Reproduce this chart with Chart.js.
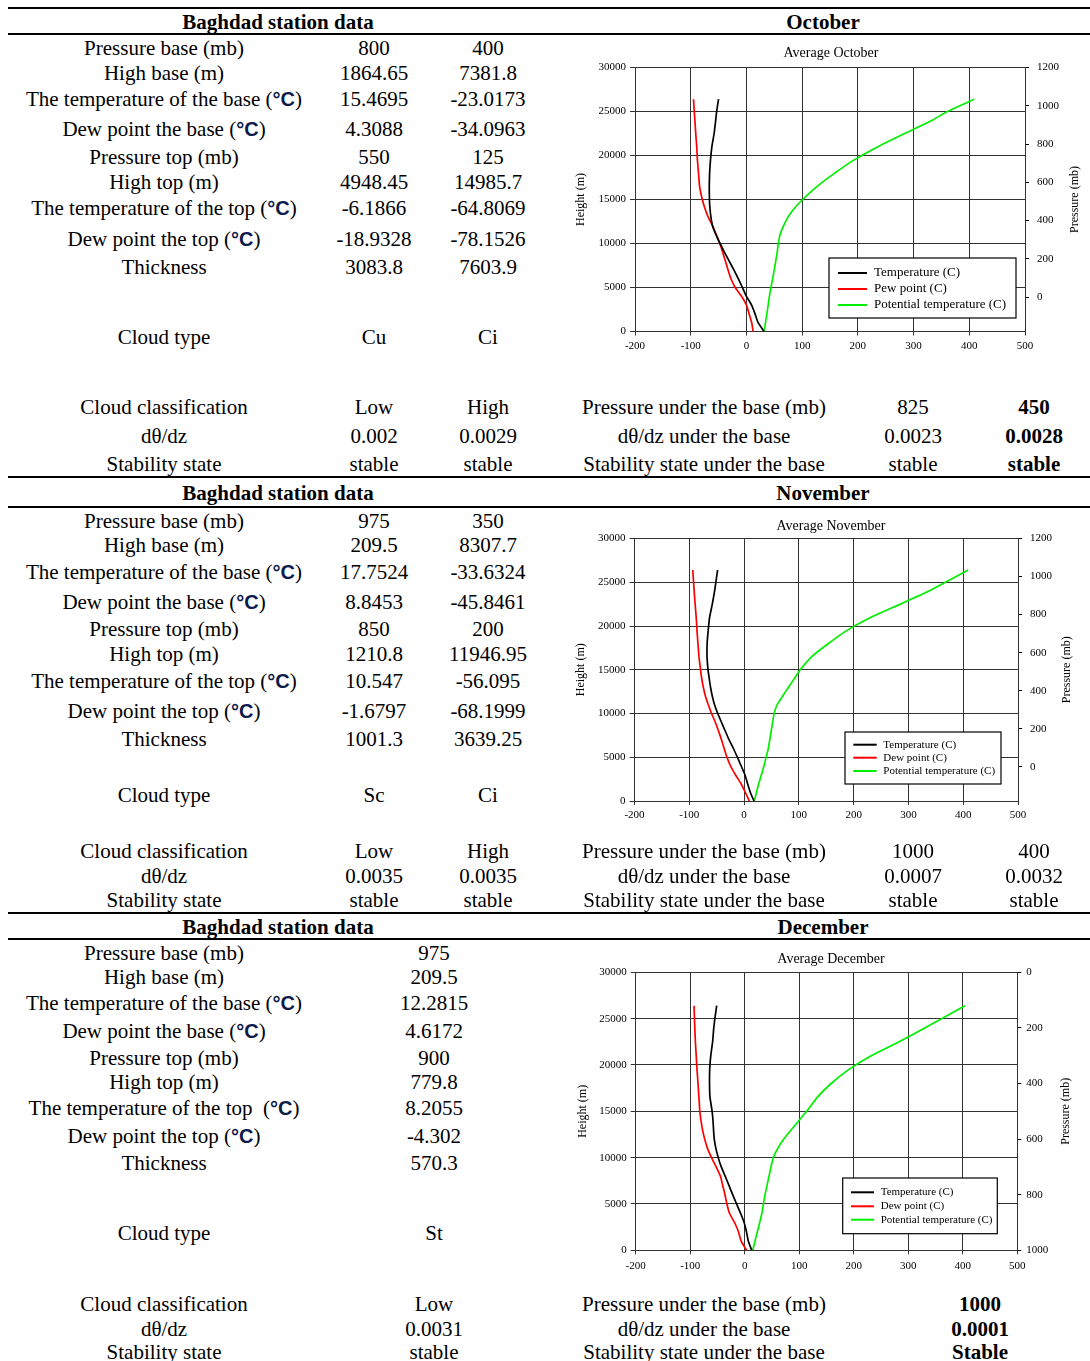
<!DOCTYPE html>
<html>
<head>
<meta charset="utf-8">
<title>Baghdad station data</title>
<script src="https://cdn.jsdelivr.net/npm/chart.js@4.4.1/dist/chart.umd.min.js"></script>
<style>
  html, body { margin: 0; padding: 0; background: #fff; }
  #page { position: relative; width: 1090px; height: 1361px; overflow: hidden;
          font-family: "Liberation Serif", "Times New Roman", serif; color: #000; }
  .t { position: absolute; font-size: 21px; line-height: 24px; white-space: nowrap;
       transform: translate(-50%, -50%); }
  .b { font-weight: bold; }
  .deg { font-family: "Liberation Sans", Arial, sans-serif; font-weight: bold; font-size: 20px; color: #0d1b4a; }
  .rule { position: absolute; left: 8px; right: 0; height: 2px; background: #000; }
  canvas { position: absolute; }
</style>
</head>
<body>
<div id="page">
  <canvas id="octChart" width="518" height="325" style="left:572px;top:40px"></canvas>
  <canvas id="novChart" width="518" height="330" style="left:572px;top:512px"></canvas>
  <canvas id="decChart" width="518" height="335" style="left:572px;top:945px"></canvas>
</div>
<script>
// ---- chart data ----
const heights = [0, 1000, 2000, 3000, 4000, 5000, 6000, 7000, 8000, 9000, 10000, 11000, 12000,
  13000, 14000, 15000, 16500, 18000, 19500, 21000, 22500, 24000, 25000, 26400];

const octTemperature = [31.7, 21, 15.5, 9.3, 0, -7.2, -14.6, -22.5, -31, -39.3, -47.3, -54.7, -60.8,
  -63.7, -65.5, -66.4, -66.7, -66.1, -64.5, -62, -58, -55.2, -53.5, -50];
const octDewPoint = [12, 9.5, 4.8, 0.1, -8.8, -20.2, -27.7, -33, -37.8, -42.6, -47.9, -54.1, -60.6,
  -68.6, -74.6, -79.2, -84.1, -86, -88, -89.2, -91, -92.5, -93.6, -95];
const octPotential = [31.7, 34.2, 36.7, 39, 41.2, 44, 47.1, 50, 52.6, 55.2, 57.3, 60.3, 66.6,
  74.6, 86.2, 100.9, 126.9, 158.6, 193.5, 236, 284, 333.4, 360.6, 409];

const novTemperature = [18.1, 11.3, 6.3, 1.6, -5.3, -12.2, -19.4, -27.4, -34.4, -41.3, -48, -53.9, -58.1,
  -61.2, -63.6, -65.8, -67.6, -67.4, -65.5, -62.9, -58, -53.8, -51.5, -48.3];
const novDewPoint = [9.6, 2.2, -5.7, -15.8, -24.7, -31.2, -36.4, -41.2, -46.6, -52.5, -59.3, -65.3, -70.6,
  -74.4, -77.3, -79.5, -82.3, -84.2, -85.9, -87.4, -89.3, -91.1, -92.2, -93.6];
const novPotential = [18.7, 22.7, 26.8, 31.7, 36.3, 40.3, 44.2, 46.9, 49.5, 52.2, 54.8, 60.4, 70.5,
  81.1, 91.8, 102.5, 123.6, 154, 187.9, 231.7, 285.1, 337.5, 367.5, 409];

const decTemperature = [12.8, 6.5, 3.2, -1.1, -7.6, -14.9, -22.1, -28.9, -35.9, -43, -48.6, -52.9, -55.9,
  -57.2, -58.2, -59.8, -63.7, -64.6, -64.3, -62.3, -58.9, -56.8, -54.8, -51.4];
const decDewPoint = [3.6, -6.6, -11.5, -18.7, -27.9, -32.7, -36.2, -40.4, -44.6, -52.4, -60.9, -68.3, -73.4,
  -77.4, -80.2, -82.4, -84, -85.7, -87.5, -89, -90.5, -91.6, -92.2, -93];
const decPotential = [14.6, 18.9, 23.2, 27.5, 31.5, 34.3, 37.2, 40.9, 44.6, 48.2, 52.4, 60.6, 71.6,
  85.3, 99.5, 113.6, 133, 158.5, 190.6, 232, 283, 330.3, 361, 404];

const tempRange = [-200, 500, 100];
const heightRange = [0, 30000, 5000];
const pressureRangeOctNov = [-180, 1200];
const pressureTicksOctNov = [0, 200, 400, 600, 800, 1000, 1200];
const pressureRangeDec = [0, 1000];
const pressureTicksDec = [0, 200, 400, 600, 800, 1000];

// ---- table text ----
const rowLabels = ["Pressure base (mb)", "High base (m)", "The temperature of the base (°C)",
  "Dew point the base (°C)", "Pressure top (mb)", "High top (m)", "The temperature of the top (°C)",
  "Dew point the top (°C)", "Thickness", "Cloud type", "Cloud classification", "dθ/dz", "Stability state"];
const octLow = ["800", "1864.65", "15.4695", "4.3088", "550", "4948.45", "-6.1866", "-18.9328", "3083.8", "Cu", "Low", "0.002", "stable"];
const octHigh = ["400", "7381.8", "-23.0173", "-34.0963", "125", "14985.7", "-64.8069", "-78.1526", "7603.9", "Ci", "High", "0.0029", "stable"];
const novLow = ["975", "209.5", "17.7524", "8.8453", "850", "1210.8", "10.547", "-1.6797", "1001.3", "Sc", "Low", "0.0035", "stable"];
const novHigh = ["350", "8307.7", "-33.6324", "-45.8461", "200", "11946.95", "-56.095", "-68.1999", "3639.25", "Ci", "High", "0.0035", "stable"];
const decLow = ["975", "209.5", "12.2815", "4.6172", "900", "779.8", "8.2055", "-4.302", "570.3", "St", "Low", "0.0031", "stable"];

const underLabels = ["Pressure under the base (mb)", "dθ/dz under the base", "Stability state under the base"];
const octUnderLow = ["825", "0.0023", "stable"];
const octUnderHigh = ["450", "0.0028", "stable"];
const novUnderLow = ["1000", "0.0007", "stable"];
const novUnderHigh = ["400", "0.0032", "stable"];
const decUnder = ["1000", "0.0001", "Stable"];

// row centres of each block
const rowsOct = [47.7, 72.7, 99.3, 129.3, 156.7, 181.7, 208.3, 239.3, 266.7, 337.3, 407.3, 436, 464.3];
const rowsNov = [520.7, 545, 571.7, 601.7, 629.3, 654.3, 681, 711, 739.3, 795, 850.7, 875.7, 900];
const rowsDec = [952.7, 976.7, 1003.3, 1031, 1057.7, 1081.7, 1108.3, 1136, 1162.7, 1233.3, 1304.3, 1329, 1351.7];

const page = document.getElementById("page");

function put(text, x, y, bold) {
  const d = document.createElement("div");
  d.className = "t" + (bold ? " b" : "");
  d.style.left = x + "px";
  d.style.top = y + "px";
  d.innerHTML = text.replace("°C", '<span class="deg">°C</span>');
  page.appendChild(d);
}

function rule(y) {
  const d = document.createElement("div");
  d.className = "rule";
  d.style.top = y + "px";
  page.appendChild(d);
}

[7, 33, 476, 506, 912, 938].forEach(rule);

function block(headY, month, rows, cols, under) {
  put("Baghdad station data", 278, headY, true);
  put(month, 823, headY, true);
  rowLabels.forEach((lab, i) => {
    if (month === "December" && i === 6) lab = "The temperature of the top&nbsp; (°C)";
    put(lab, 164, rows[i]);
    cols.forEach(([vals, x]) => put(vals[i], x, rows[i]));
  });
  underLabels.forEach((lab, i) => {
    put(lab, 704, rows[10 + i]);
    under.forEach(([vals, x, bold]) => put(vals[i], x, rows[10 + i], bold));
  });
}

block(21.5, "October", rowsOct, [[octLow, 374], [octHigh, 488]], [[octUnderLow, 913, false], [octUnderHigh, 1034, true]]);
block(493.3, "November", rowsNov, [[novLow, 374], [novHigh, 488]], [[novUnderLow, 913, false], [novUnderHigh, 1034, false]]);
block(927.3, "December", rowsDec, [[decLow, 434]], [[decUnder, 980, true]]);

// ---- charts ----
Chart.defaults.font.family = '"Liberation Serif", "Times New Roman", serif';
Chart.defaults.color = "#000";

const extras = {
  id: "extras",
  afterDraw(chart, args, o) {
    const ctx = chart.ctx;
    const area = chart.chartArea;
    ctx.save();
    // right axis title, reading bottom to top
    ctx.font = '12px "Liberation Serif"';
    ctx.fillStyle = "#000";
    ctx.textAlign = "center";
    ctx.textBaseline = "middle";
    ctx.translate(o.rightTitleX, (area.top + area.bottom) / 2);
    ctx.rotate(-Math.PI / 2);
    ctx.fillText("Pressure (mb)", 0, 0);
    ctx.restore();

    // boxed legend inside the plot
    const L = o.legend;
    ctx.save();
    ctx.fillStyle = "#fff";
    ctx.fillRect(L.x, L.y, L.w, L.h);
    ctx.strokeStyle = "#000";
    ctx.lineWidth = 1.2;
    ctx.strokeRect(L.x, L.y, L.w, L.h);
    ctx.font = L.size + 'px "Liberation Serif"';
    ctx.textBaseline = "middle";
    chart.data.datasets.forEach((ds, i) => {
      ctx.strokeStyle = ds.borderColor;
      ctx.lineWidth = 2;
      ctx.beginPath();
      ctx.moveTo(L.lx0, L.rows[i]);
      ctx.lineTo(L.lx1, L.rows[i]);
      ctx.stroke();
      ctx.fillStyle = "#000";
      ctx.fillText(ds.label, L.tx, L.rows[i]);
    });
    ctx.restore();
  },
};

function pts(temps) {
  return heights.map((h, i) => ({ x: temps[i], y: h }));
}

const plain = (v) => String(v);

function makeChart(id, c) {
  const tick = { size: 11 };
  return new Chart(document.getElementById(id), {
    type: "scatter",
    data: {
      datasets: [
        { label: "Temperature (C)", data: pts(c.temp), borderColor: "#000000" },
        { label: c.dewLabel, data: pts(c.dew), borderColor: "#ff0000" },
        { label: "Potential temperature (C)", data: pts(c.pot), borderColor: "#00ee00" },
      ].map((d) => Object.assign(d, { showLine: true, pointRadius: 0, borderWidth: 1.7, tension: 0.15, fill: false })),
    },
    plugins: [extras],
    options: {
      responsive: false,
      animation: false,
      layout: { padding: 0 },
      plugins: {
        legend: { display: false },
        tooltip: { enabled: false },
        title: {
          display: true,
          text: c.title,
          font: { size: 14, weight: "normal" },
          color: "#000",
          padding: c.titlePad,
        },
        extras: { rightTitleX: c.rightTitleX, legend: c.legend },
      },
      scales: {
        x: {
          type: "linear",
          min: tempRange[0],
          max: tempRange[1],
          ticks: { stepSize: tempRange[2], font: tick, padding: c.xPad, maxRotation: 0, callback: plain },
          grid: { color: "#333", lineWidth: 1, tickLength: 4 },
          border: { color: "#333" },
          afterFit: (s) => { s.height = c.xH; },
        },
        y: {
          min: heightRange[0],
          max: heightRange[1],
          ticks: { stepSize: heightRange[2], font: tick, padding: 4, callback: plain },
          grid: { color: "#333", lineWidth: 1, tickLength: 5 },
          border: { color: "#333" },
          title: { display: true, text: "Height (m)", font: { size: 12 }, padding: { top: c.leftTitlePad, bottom: 0 } },
          afterFit: (s) => { s.width = c.yW; },
        },
        y2: {
          position: "right",
          min: c.pressure[0],
          max: c.pressure[1],
          reverse: c.reverse,
          afterBuildTicks: (s) => { s.ticks = c.pressureTicks.map((v) => ({ value: v })); },
          ticks: { font: tick, padding: c.y2Pad, callback: plain },
          grid: { drawOnChartArea: false, color: "#000", tickLength: 4 },
          border: { display: true, color: "#333" },
          afterFit: (s) => { s.width = c.y2W; },
        },
      },
    },
  });
}

makeChart("octChart", {
  title: "Average October",
  temp: octTemperature, dew: octDewPoint, pot: octPotential, dewLabel: "Pew point (C)",
  pressure: pressureRangeOctNov, pressureTicks: pressureTicksOctNov, reverse: false,
  titlePad: { top: 4.6, bottom: 6.1 }, yW: 63, y2W: 65, xH: 33.5, xPad: 4, y2Pad: 8, leftTitlePad: 1.8,
  rightTitleX: 503,
  legend: { x: 257, y: 218, w: 187, h: 60, rows: [233, 249, 265], lx0: 266, lx1: 295, tx: 302, size: 13 },
});

makeChart("novChart", {
  title: "Average November",
  temp: novTemperature, dew: novDewPoint, pot: novPotential, dewLabel: "Dew point (C)",
  pressure: pressureRangeOctNov, pressureTicks: pressureTicksOctNov, reverse: false,
  titlePad: { top: 6.3, bottom: 3.4 }, yW: 62.5, y2W: 72, xH: 41, xPad: 4, y2Pad: 8, leftTitlePad: 1.8,
  rightTitleX: 494.7,
  legend: { x: 273, y: 220, w: 156, h: 52, rows: [232.7, 245.7, 259], lx0: 281.3, lx1: 304.7, tx: 311.3, size: 11 },
});

makeChart("decChart", {
  title: "Average December",
  temp: decTemperature, dew: decDewPoint, pot: decPotential, dewLabel: "Dew point (C)",
  pressure: pressureRangeDec, pressureTicks: pressureTicksDec, reverse: true,
  titlePad: { top: 6.3, bottom: 4.2 }, yW: 63.7, y2W: 72.7, xH: 29.7, xPad: 5, y2Pad: 5, leftTitlePad: 3.5,
  rightTitleX: 494,
  legend: { x: 270.7, y: 233, w: 154.6, h: 55.7, rows: [247.3, 261.3, 274.7], lx0: 279, lx1: 302, tx: 308.7, size: 11 },
});
</script>
</body>
</html>
